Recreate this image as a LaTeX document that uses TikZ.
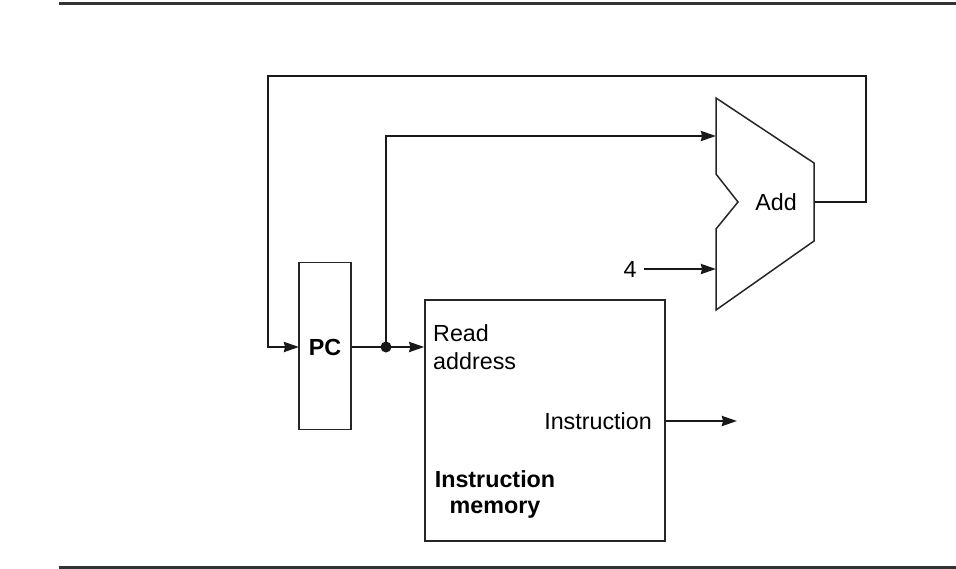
\documentclass[tikz,border=0pt]{standalone}
\usepackage{fontspec}
\setmainfont{Liberation Sans}
\usetikzlibrary{arrows.meta,calc}
\begin{document}
\begin{tikzpicture}[x=1pt,y=-1pt,
  wire/.style={line width=2.2pt, draw=black!90},
  arr/.style={wire,-{Stealth[length=15pt,width=10pt,inset=1pt]}},
  unit/.style={draw=black!85, line width=1.5pt, fill=white, inner sep=0pt},
  lbl/.style={font=\fontsize{23.3}{28}\selectfont, inner sep=0pt},
  rule/.style={line width=3pt, draw=black!80}]
\useasboundingbox (0,0) rectangle (956,568);

% horizontal rules above and below the figure
\draw[rule] (59,3) -- (956,3);
\draw[rule] (59,567) -- (956,567);

% program counter and instruction memory
\node[unit, minimum width=52pt, minimum height=167pt] (pc) at (325,346) {};
\node[lbl, font=\fontsize{23.3}{28}\selectfont\bfseries] (pclbl) at (325,347) {PC};
\node[unit, minimum width=240pt, minimum height=241pt] (mem) at (545,420.5) {};
\node[lbl, anchor=west, align=left] (raddr) at (433,347) {Read\\address};
\node[lbl, anchor=east] (instr) at (652,421) {Instruction};
\node[lbl, font=\fontsize{23.3}{26}\selectfont\bfseries, align=center] (memlbl) at (495,494) {Instruction\\memory};

% adder
\draw[unit] (716,98) -- (814,163) -- (814,241) -- (716,310) -- (716,229)
  -- (738,202) -- (716,174) -- cycle;
\node[lbl] (add) at (776,202) {Add};
\coordinate (addA) at (716,136);
\coordinate (addB) at (716,269);
\coordinate (addout) at (814,202);

% constant input
\node[lbl] (four) at (630,269) {4};

% connections
\coordinate (split) at (386,347);
\coordinate (iout) at (737,421);
\coordinate (pcin) at (299,347);
\draw[arr] (pc.east |- split) -- (mem.west |- split);
\fill[black!90] (split) circle (5.5pt);
\draw[arr] (split) |- (addA);
\draw[arr] ([xshift=7pt]four.east) -- (addB);
\draw[arr] (addout) -- (866,202) -- (866,76) -- (268,76) |- (pcin);
\draw[arr] (mem.east |- instr) -- (iout);
\end{tikzpicture}
\end{document}
